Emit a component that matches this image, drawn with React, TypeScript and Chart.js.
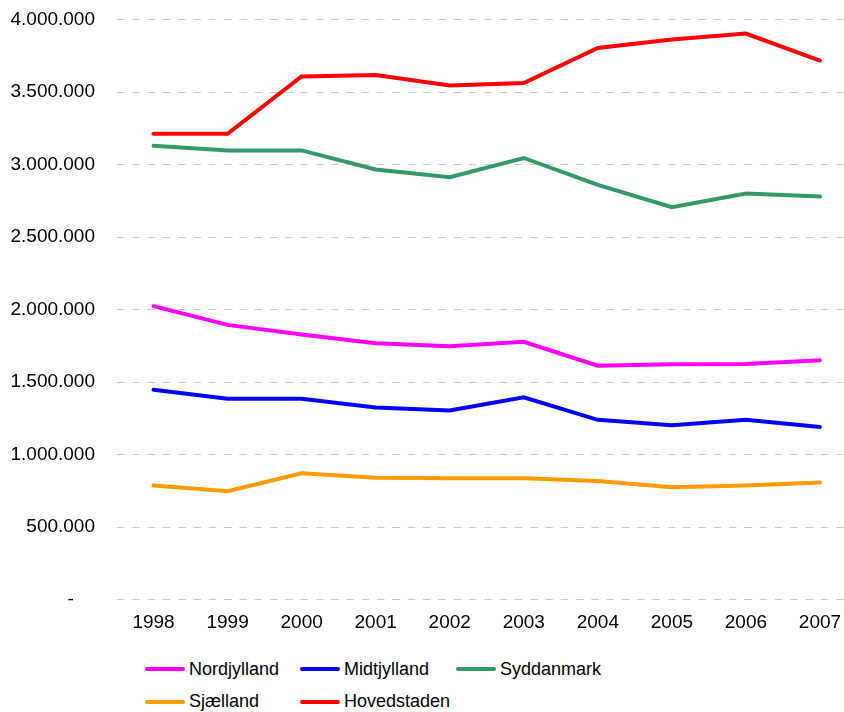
import React, { useEffect, useRef } from "react";
import { Chart, registerables } from "chart.js";

Chart.register(...registerables);

const years = ["1998", "1999", "2000", "2001", "2002", "2003", "2004", "2005", "2006", "2007"];

const nordjylland = [2023000, 1894000, 1828000, 1768000, 1747000, 1777000, 1612000, 1623000, 1624000, 1650000];
const midtjylland = [1446000, 1384000, 1384000, 1324000, 1303000, 1395000, 1239000, 1202000, 1239000, 1189000];
const syddanmark = [3129000, 3097000, 3097000, 2966000, 2912000, 3045000, 2859000, 2706000, 2800000, 2779000];
const sjaelland = [786000, 747000, 871000, 839000, 837000, 837000, 818000, 774000, 786000, 807000];
const hovedstaden = [3212000, 3212000, 3607000, 3617000, 3545000, 3562000, 3803000, 3862000, 3903000, 3717000];

const seriesNames = ["Nordjylland", "Midtjylland", "Syddanmark", "Sjælland", "Hovedstaden"];
const seriesColors = ["#FF00FF", "#0000FF", "#339966", "#FF9900", "#FF0000"];
const seriesValues = [nordjylland, midtjylland, syddanmark, sjaelland, hovedstaden];

const yMin = 0;
const yMax = 4000000;
const yStep = 500000;

const FONT = "'Liberation Sans', Arial, sans-serif";

function formatTick(v: number): string {
  if (v === 0) return "-    ";
  return Math.round(v).toString().replace(/\B(?=(\d{3})+(?!\d))/g, ".");
}

export default function App() {
  const canvasRef = useRef<HTMLCanvasElement | null>(null);

  useEffect(() => {
    if (!canvasRef.current) return;
    const chart = new Chart(canvasRef.current, {
      type: "line",
      data: {
        labels: years,
        datasets: seriesNames.map((name, i) => ({
          label: name,
          data: seriesValues[i],
          borderColor: seriesColors[i],
          backgroundColor: seriesColors[i],
          borderWidth: 4,
          pointRadius: 0,
          pointHoverRadius: 0,
          tension: 0,
          borderCapStyle: "round" as const,
          borderJoinStyle: "miter" as const,
        })),
      },
      options: {
        responsive: false,
        animation: false,
        devicePixelRatio: 1,
        layout: { padding: { top: 19.5, right: 0, left: 0, bottom: 0 } },
        plugins: {
          legend: { display: false },
          tooltip: { enabled: false },
          title: { display: false },
        },
        scales: {
          x: {
            offset: true,
            grid: { display: false, drawTicks: false },
            border: { display: false },
            ticks: {
              color: "#000",
              font: { family: FONT, size: 19 },
              padding: 12,
              maxRotation: 0,
              autoSkip: false,
            },
            afterFit: (s: any) => {
              s.height = 45.5;
              s.paddingLeft = 0;
              s.paddingRight = 0;
            },
          },
          y: {
            min: yMin,
            max: yMax,
            grid: {
              color: "#c8c8c8",
              lineWidth: 1,
              drawTicks: false,
            },
            border: { display: false, dash: [7.5, 7.8] },
            ticks: {
              stepSize: yStep,
              color: "#000",
              font: { family: FONT, size: 19 },
              padding: 21.5,
              callback: (v: any) => formatTick(Number(v)),
            },
            afterFit: (s: any) => {
              s.width = 116.5;
              s.paddingTop = 0;
              s.paddingBottom = 0;
            },
          },
        },
      },
    });
    return () => chart.destroy();
  }, []);

  const legendCols = [145, 300, 456];
  const legendRows = [669, 701.5];

  return (
    <div
      style={{
        position: "absolute",
        left: 0,
        top: 0,
        width: 844,
        height: 712,
        overflow: "hidden",
        background: "#fff",
      }}
    >
      <canvas ref={canvasRef} width={857} height={645} style={{ position: "absolute", left: 0, top: 0 }} />
      {seriesNames.map((name, i) => {
        const col = legendCols[i % 3];
        const row = legendRows[Math.floor(i / 3)];
        return (
          <div
            key={name}
            style={{
              position: "absolute",
              left: col,
              top: row - 12,
              height: 24,
              display: "flex",
              alignItems: "center",
              fontFamily: FONT,
              fontSize: 18,
              color: "#000",
              whiteSpace: "nowrap",
            }}
          >
            <span
              style={{
                display: "inline-block",
                width: 40,
                height: 4,
                borderRadius: 2,
                background: seriesColors[i],
                marginRight: 4,
              }}
            />
            <span>{name}</span>
          </div>
        );
      })}
    </div>
  );
}
